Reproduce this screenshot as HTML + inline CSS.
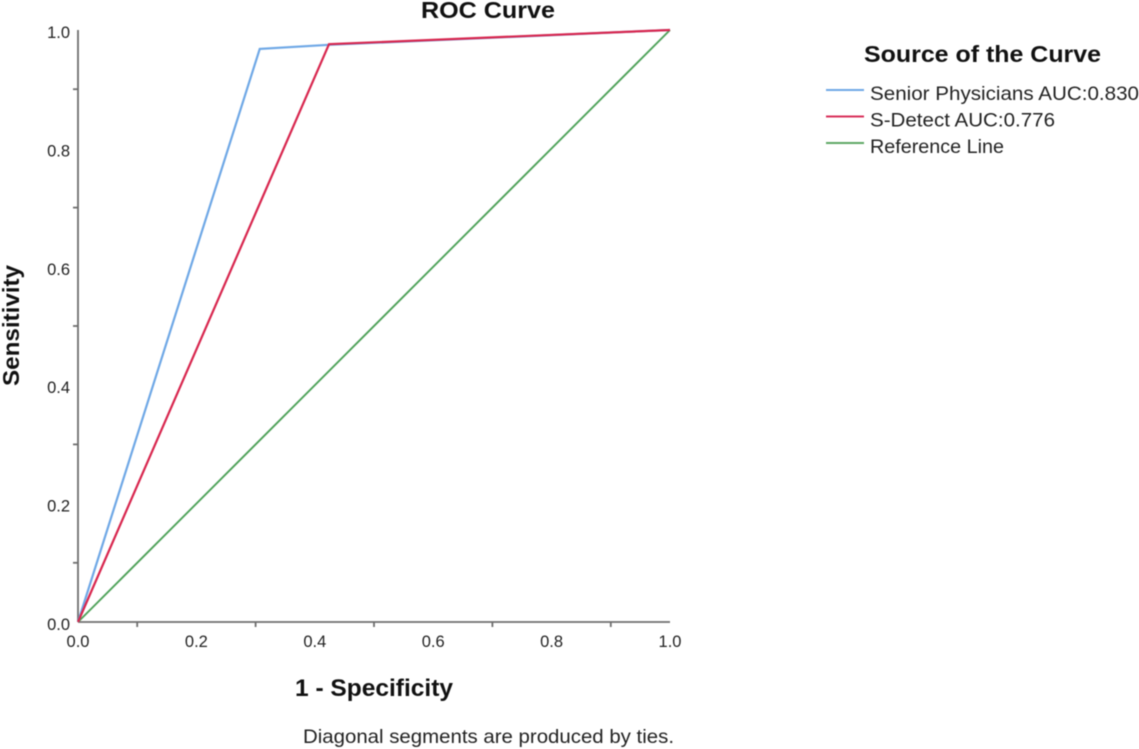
<!DOCTYPE html>
<html>
<head>
<meta charset="utf-8">
<title>ROC Curve</title>
<style>
html,body{margin:0;padding:0;background:#fff;width:1139px;height:749px;overflow:hidden}
svg{display:block;font-family:"Liberation Sans",Arial,sans-serif;filter:blur(0.4px)}
</style>
</head>
<body>
<svg id="chart" width="1139" height="749" viewBox="0 0 1139 749" xmlns="http://www.w3.org/2000/svg">
<rect width="1139" height="749" fill="#fff"/>
<text x="421" y="18" textLength="134" lengthAdjust="spacingAndGlyphs" font-size="23" font-weight="bold" fill="#111">ROC Curve</text>
<g id="axes"></g>
<g id="series"></g>
<text x="295" y="696" textLength="158" lengthAdjust="spacingAndGlyphs" font-size="24" font-weight="bold" fill="#111">1 - Specificity</text>
<text transform="translate(19,386) rotate(-90)" textLength="121" lengthAdjust="spacingAndGlyphs" font-size="23" font-weight="bold" fill="#111">Sensitivity</text>
<text x="303" y="743" textLength="371" lengthAdjust="spacingAndGlyphs" font-size="19.5" fill="#222">Diagonal segments are produced by ties.</text>
<text x="864" y="62" textLength="237" lengthAdjust="spacingAndGlyphs" font-size="23.5" font-weight="bold" fill="#111">Source of the Curve</text>
<g id="legend"></g>
</svg>
<script>
const tickLabels = [0.0, 0.2, 0.4, 0.6, 0.8, 1.0];
const minorTicks = [0.1, 0.3, 0.5, 0.7, 0.9];
const seniorX = [0, 0.307, 0.424, 1];
const seniorY = [0, 0.968, 0.975, 1];
const sDetectX = [0, 0.424, 1];
const sDetectY = [0, 0.976, 1];
const referenceX = [0, 1];
const referenceY = [0, 1];
const seriesNames = ['Senior Physicians AUC:0.830', 'S-Detect AUC:0.776', 'Reference Line'];

const NS = 'http://www.w3.org/2000/svg';
const sx = v => 78 + v * 592;
const sy = v => 622 - v * 592;
function mk(tag, attrs, parent, text) {
  const el = document.createElementNS(NS, tag);
  for (const k in attrs) el.setAttribute(k, attrs[k]);
  if (text !== undefined) el.textContent = text;
  parent.appendChild(el);
  return el;
}
const axes = document.getElementById('axes');
const axisStyle = {stroke: '#6e6e6e', 'stroke-width': 1.8, fill: 'none'};

const xAxisLine = mk('line', Object.assign({x1: sx(0), y1: sy(0), x2: sx(1), y2: sy(0)}, axisStyle), axes);


const yAxisLine = mk('line', Object.assign({x1: sx(0), y1: sy(0), x2: sx(0), y2: sy(1)}, axisStyle), axes);



minorTicks.forEach(v => {
  const tx = mk('line', Object.assign({x1: sx(v), y1: sy(0), x2: sx(v), y2: sy(0) + 5}, axisStyle), axes);
  
  
  const ty = mk('line', Object.assign({x1: sx(0), y1: sy(v), x2: sx(0) - 5, y2: sy(v)}, axisStyle), axes);
  
  
});
tickLabels.forEach(v => {
  const s = v.toFixed(1);
  const lx = mk('text', {x: sx(v), y: sy(0) + 25, 'text-anchor': 'middle', 'font-size': 16.5, fill: '#222'}, axes, s);
  
  
  const ly = mk('text', {x: sx(0) - 8, y: sy(v) + 8, 'text-anchor': 'end', 'font-size': 16.5, fill: '#222'}, axes, s);
  
  
});

const seriesGroup = document.getElementById('series');
function pts(xs, ys) { return xs.map((x, i) => sx(x) + ',' + sy(ys[i])).join(' '); }

const refLine = mk('polyline', {points: pts(referenceX, referenceY), fill: 'none', stroke: '#4fa25a', 'stroke-width': 1.9}, seriesGroup);


const seniorLine = mk('polyline', {points: pts(seniorX, seniorY), fill: 'none', stroke: '#6fa8e6', 'stroke-width': 2.2}, seriesGroup);


const detectLine = mk('polyline', {points: pts(sDetectX, sDetectY), fill: 'none', stroke: '#d8274f', 'stroke-width': 2.2}, seriesGroup);



const legend = document.getElementById('legend');
const legendColors = ['#6fa8e6', '#d8305a', '#5fa865'];
const legendTextWidths = [269, 185, 134];
seriesNames.forEach((name, i) => {
  const y = 90 + i * 26.5;
  const sw = mk('line', {x1: 826, x2: 864, y1: y, y2: y, stroke: legendColors[i], 'stroke-width': 2}, legend);
  
  
  const tx = mk('text', {x: 870, y: y + 10, 'font-size': 19.5, fill: '#222', textLength: legendTextWidths[i], lengthAdjust: 'spacingAndGlyphs'}, legend, name);
  
  
});
</script>
</body>
</html>
